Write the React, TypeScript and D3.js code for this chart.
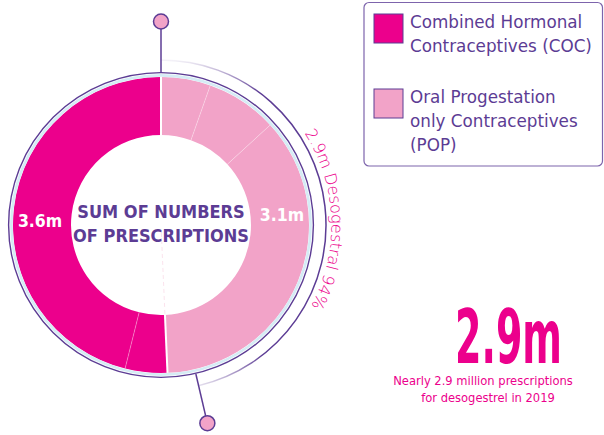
import React from "react";
import * as d3 from "d3";

// ---------- data ----------
const groupKeys = ["POP", "COC"];
const groupLabels = ["3.1m", "3.6m"];
const legendKeys = ["COC", "POP"];
const legendLines = [
  ["Combined Hormonal", "Contraceptives (COC)"],
  ["Oral Progestation", "only Contraceptives", "(POP)"],
];
// segments in drawing order, clockwise from 12 o'clock (share of ring, %)
const segmentGroup = ["POP", "POP", "POP", "COC", "COC"];
const segmentShare = [5.4, 7.8, 36.1, 4.6, 46.1];
const desogestrelShareOfPOP = 0.94;
const arcLabel = "2.9m Desogestral 94%";
const centerLines = ["SUM OF NUMBERS", "OF PRESCRIPTIONS"];
const bigFigure = "2.9m";
const noteLines = ["Nearly 2.9 million prescriptions", "for desogestrel in 2019"];

// ---------- style ----------
const W = 604;
const H = 435;
const cx = 161;
const cy = 225;
const rIn = 90;
const rOut = 148;
const colors: Record<string, string> = { COC: "#ec008c", POP: "#f2a3c8" };
const purple = "#5c3c94";
const magenta = "#ec008c";
const sans = "'DejaVu Sans', sans-serif";
const cond = "'DejaVu Sans Condensed', 'DejaVu Sans', sans-serif";

const pt = (a: number, r: number): [number, number] => [cx + r * Math.sin(a), cy - r * Math.cos(a)];

export default function App() {
  const pie = d3
    .pie<number>()
    .sort(null)
    .value((d) => d)
    .startAngle(0)
    .endAngle(2 * Math.PI);
  const arcs = pie(segmentShare);
  const arcGen = d3.arc<d3.PieArcDatum<number>>().innerRadius(rIn).outerRadius(rOut);

  const groupRange = groupKeys.map((g) => {
    const ga = arcs.filter((_, i) => segmentGroup[i] === g);
    return [d3.min(ga, (d) => d.startAngle) as number, d3.max(ga, (d) => d.endAngle) as number];
  });
  const popEnd = groupRange[0][1];
  const desoEnd = popEnd * desogestrelShareOfPOP;

  const innerSeps = arcs
    .filter((d, i) => i < arcs.length - 1 && segmentGroup[i] === segmentGroup[i + 1])
    .map((d) => d.endAngle);
  const groupSeps = [0, popEnd];

  const outer = d3.path();
  outer.arc(cx, cy, 165, -Math.PI / 2, desoEnd - Math.PI / 2);
  const textArc = d3.path();
  textArc.arc(cx, cy, 170.5, -Math.PI / 2, desoEnd - Math.PI / 2);

  const pins = [0, desoEnd];

  return (
    <svg width={W} height={H} style={{ position: "absolute", left: 0, top: 0 }}>
      <defs>
        <linearGradient id="fade" gradientUnits="userSpaceOnUse" x1={0} y1={60} x2={0} y2={388}>
          <stop offset="0" stopColor={purple} stopOpacity={0.06} />
          <stop offset="0.1" stopColor={purple} stopOpacity={1} />
          <stop offset="0.9" stopColor={purple} stopOpacity={1} />
          <stop offset="1" stopColor={purple} stopOpacity={0.1} />
        </linearGradient>
      </defs>

      {arcs.map((d, i) => (
        <path key={i} d={arcGen(d) as string} transform={`translate(${cx},${cy})`} fill={colors[segmentGroup[i]]} />
      ))}
      {innerSeps.map((a, i) => {
        const [x1, y1] = pt(a, rIn);
        const [x2, y2] = pt(a, rOut);
        return <line key={i} x1={x1} y1={y1} x2={x2} y2={y2} stroke="#ffffff" strokeOpacity={0.4} strokeWidth={0.8} />;
      })}
      {groupSeps.map((a, i) => {
        const [x1, y1] = pt(a, rIn);
        const [x2, y2] = pt(a, rOut);
        return <line key={i} x1={x1} y1={y1} x2={x2} y2={y2} stroke="#ffffff" strokeWidth={2} />;
      })}
      {(() => {
        const [x1, y1] = pt(popEnd, 8);
        const [x2, y2] = pt(popEnd, rIn);
        return <line x1={x1} y1={y1} x2={x2} y2={y2} stroke="#f4b8d3" strokeOpacity={0.5} strokeWidth={0.8} strokeDasharray="4 3" />;
      })()}

      <circle cx={cx} cy={cy} r={149.6} fill="none" stroke="#d5ecf5" strokeWidth={2.6} />
      <circle cx={cx} cy={cy} r={152.4} fill="none" stroke={purple} strokeWidth={1.4} />

      <path d={outer.toString()} fill="none" stroke="url(#fade)" strokeWidth={1.5} />
      <path id="txtarc" d={textArc.toString()} fill="none" stroke="none" />
      <text fontFamily={sans} fontSize={16} fill={magenta} fontWeight={300}>
        <textPath href="#txtarc" startOffset="52.7%" textAnchor="middle">
          {arcLabel}
        </textPath>
      </text>

      {pins.map((a, i) => {
        const [x1, y1] = pt(a, 153);
        const [x2, y2] = pt(a, 196);
        const [px, py] = pt(a, 203.5);
        return (
          <g key={i}>
            <line x1={x1} y1={y1} x2={x2} y2={y2} stroke={purple} strokeWidth={1.5} />
            <circle cx={px} cy={py} r={7.5} fill={colors.POP} stroke={purple} strokeWidth={1.5} />
          </g>
        );
      })}

      {groupKeys.map((g, i) => {
        const mid = (groupRange[i][0] + groupRange[i][1]) / 2;
        const [x, y] = pt(mid, 121);
        return (
          <text key={g} x={x} y={y - 1} textAnchor="middle" fontFamily={cond} fontWeight="bold" fontSize={17.5} fill="#ffffff">
            {groupLabels[i]}
          </text>
        );
      })}

      {centerLines.map((t, i) => (
        <text key={i} x={cx} y={218 + i * 24} textAnchor="middle" fontFamily={cond} fontWeight="bold" fontSize={18} fill={purple}>
          {t}
        </text>
      ))}

      <rect x={364} y={2.5} width={238.5} height={163.5} rx={5} fill="none" stroke="#7d64ac" strokeWidth={1.2} />
      {legendKeys.map((k, i) => {
        const y0 = i === 0 ? 14 : 89;
        return (
          <g key={k}>
            <rect x={374} y={y0} width={29} height={29} fill={colors[k]} stroke={purple} strokeWidth={1} />
            {legendLines[i].map((l, j) => (
              <text key={j} x={410} y={y0 + 14 + j * 24} fontFamily={sans} fontSize={16.8} fill={purple}>
                {l}
              </text>
            ))}
          </g>
        );
      })}

      <text x={455} y={363} fontFamily={cond} fontWeight="bold" fontSize={75} fill={magenta} textLength={107} lengthAdjust="spacingAndGlyphs">
        {bigFigure}
      </text>
      {noteLines.map((t, i) => (
        <text key={i} x={i === 0 ? 483 : 488} y={385 + i * 17} textAnchor="middle" fontFamily={cond} fontSize={12.8} fill={magenta}>
          {t}
        </text>
      ))}
    </svg>
  );
}
